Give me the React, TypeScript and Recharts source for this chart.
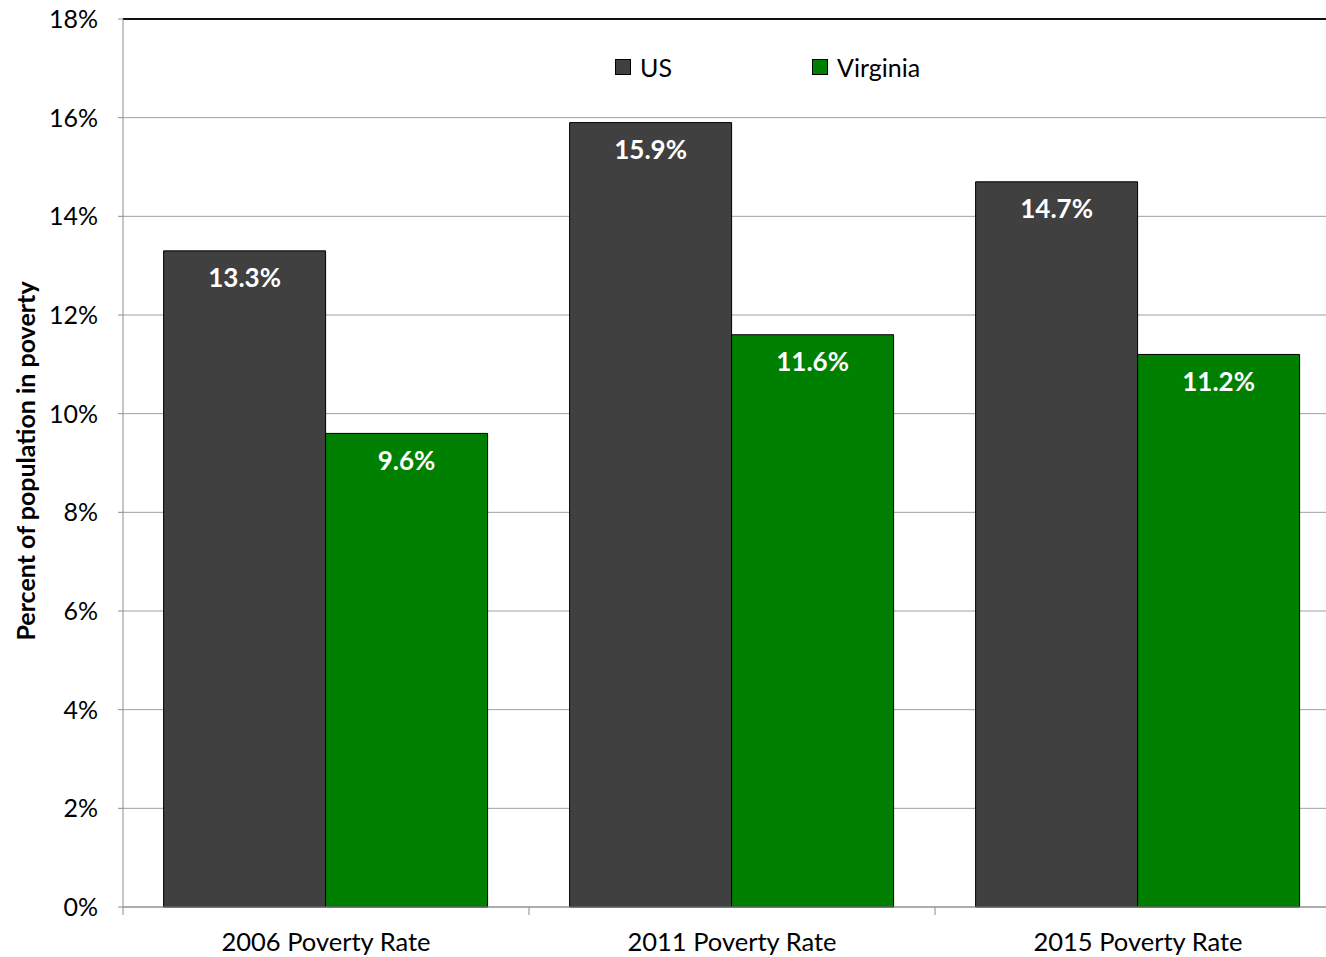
import React from 'react';
import { BarChart, Bar, XAxis, YAxis, CartesianGrid, Legend, LabelList, ReferenceLine } from 'recharts';

// poverty rates by year, percent
const categories = ['2006 Poverty Rate', '2011 Poverty Rate', '2015 Poverty Rate'];
const usValues = [13.3, 15.9, 14.7];
const virginiaValues = [9.6, 11.6, 11.2];
const yTicks = [0, 2, 4, 6, 8, 10, 12, 14, 16, 18];

const data = categories.map((name, i) => ({ name, us: usValues[i], virginia: virginiaValues[i] }));

const FONT = 'Lato, "Open Sans", sans-serif';
const CHART_W = 1341;
const CHART_H = 957;
const Y_AXIS_W = 123;
const HALF_BAND = (CHART_W - Y_AXIS_W) / categories.length / 2;

const CategoryTick = (props: any) => {
  const { x, y, payload } = props;
  return (
    <g>
      <line x1={x - HALF_BAND} x2={x - HALF_BAND} y1={y} y2={y + 8} stroke="#8c8c8c" />
      <text x={x} y={y + 44} textAnchor="middle" fill="#000" fontSize={25.5} fontFamily={FONT}>
        {payload.value}
      </text>
    </g>
  );
};

const LegendContent = (props: any) => {
  const { payload } = props;
  return (
    <div style={{ display: 'flex', fontFamily: FONT, fontSize: 25, color: '#000' }}>
      {(payload || []).map((item: any) => (
        <div key={item.value} style={{ display: 'flex', alignItems: 'center', width: 197 }}>
          <span
            style={{
              display: 'inline-block',
              width: 14,
              height: 14,
              background: item.color,
              border: '1px solid #000',
              marginRight: 9,
            }}
          />
          <span>{item.value}</span>
        </div>
      ))}
    </div>
  );
};

const YLabel = () => (
  <text
    transform="translate(25, 461) rotate(-90)"
    textAnchor="middle"
    dominantBaseline="central"
    fontWeight="bold"
    fontSize={25}
    fontFamily={FONT}
    fill="#000"
  >
    Percent of population in poverty
  </text>
);

const barLabel = (key: string) => (
  <LabelList
    dataKey={key}
    position="insideTop"
    offset={18}
    fill="#fff"
    fontSize={26}
    fontWeight="bold"
    fontFamily={FONT}
    formatter={(v: any) => `${Number(v).toFixed(1)}%`}
  />
);

const App: React.FC = () => {
  return (
    <div style={{ position: 'absolute', left: 0, top: 0, width: 1326, height: 957, overflow: 'hidden', background: '#fff' }}>
      <BarChart
        width={CHART_W}
        height={CHART_H}
        data={data}
        margin={{ top: 19, right: 0, left: 0, bottom: 0 }}
        barCategoryGap="10%"
        barGap={0}
      >
        <CartesianGrid vertical={false} stroke="#a0a0a0" />
        <XAxis
          dataKey="name"
          height={50}
          tickLine={false}
          tickSize={0}
          tickMargin={0}
          axisLine={{ stroke: '#8c8c8c' }}
          tick={<CategoryTick />}
          interval={0}
        />
        <YAxis
          width={Y_AXIS_W}
          domain={[0, 18]}
          ticks={yTicks}
          tickFormatter={(v: number) => `${v}%`}
          tickSize={5}
          tickMargin={20}
          tickLine={{ stroke: '#8c8c8c' }}
          axisLine={{ stroke: '#8c8c8c' }}
          tick={{ fill: '#000', fontSize: 25, fontFamily: FONT }}
          label={{ content: <YLabel /> }}
        />
        <ReferenceLine y={18} stroke="#111" strokeWidth={2} />
        <Legend
          verticalAlign="middle"
          align="center"
          content={<LegendContent />}
          wrapperStyle={{ top: 52, left: 615, width: 400, bottom: 'auto', right: 'auto' }}
        />
        <Bar dataKey="us" name="US" fill="#404040" stroke="#000" strokeWidth={1} isAnimationActive={false}>
          {barLabel('us')}
        </Bar>
        <Bar dataKey="virginia" name="Virginia" fill="#008000" stroke="#000" strokeWidth={1} isAnimationActive={false}>
          {barLabel('virginia')}
        </Bar>
      </BarChart>
    </div>
  );
};

export default App;
